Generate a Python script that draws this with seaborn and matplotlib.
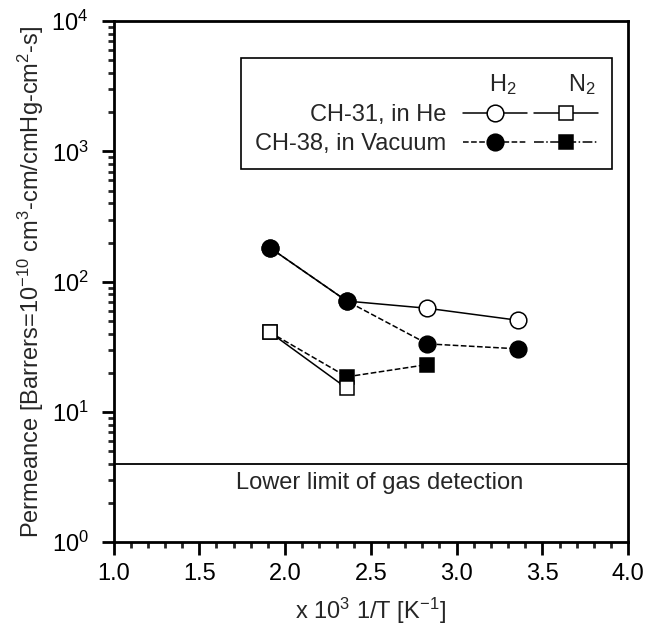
import matplotlib
matplotlib.use("Agg")
import matplotlib.pyplot as plt
from matplotlib.lines import Line2D
from matplotlib.legend_handler import HandlerTuple
from matplotlib.ticker import LogLocator, MultipleLocator, NullFormatter, FormatStrFormatter
import seaborn as sns

# data (x = 1000/T)
inv_T = [1.91, 2.36, 2.83, 3.36]
h2_ch31 = [183, 71, 62.5, 50.5]
h2_ch38 = [183, 71, 33.3, 30.5]
n2_ch31 = [41, 15.2]
n2_ch38 = [41, 18.6, 23.1]
detect_limit = 4.0

sns.set_style("ticks")
plt.rcParams['font.family'] = ['Liberation Sans', 'DejaVu Sans']
plt.rcParams['mathtext.fontset'] = 'custom'
plt.rcParams['mathtext.rm'] = 'Liberation Sans'
plt.rcParams['mathtext.it'] = 'Liberation Sans:italic'
FS = 17

fig = plt.figure(figsize=(6.64, 6.26), dpi=100)
ax = fig.add_axes([0.171, 0.134, 0.775, 0.832])

open_kw = dict(color='k', markerfacecolor='white', markeredgecolor='k', markeredgewidth=1.1, linewidth=1.1)
fill_kw = dict(color='k', markerfacecolor='k', markeredgecolor='k', markeredgewidth=1.1, linewidth=1.1)

# H2
sns.lineplot(x=inv_T, y=h2_ch31, marker='o', markersize=12, linestyle='-', ax=ax, **open_kw)
sns.lineplot(x=inv_T, y=h2_ch38, marker='o', markersize=12, linestyle='--', ax=ax, **fill_kw)
# N2
sns.lineplot(x=inv_T[:3], y=n2_ch38, marker='s', markersize=10.5, linestyle='--', ax=ax, **fill_kw)
sns.lineplot(x=inv_T[:2], y=n2_ch31, marker='s', markersize=10.5, linestyle='-', ax=ax, **open_kw)

ax.axhline(detect_limit, color='k', linewidth=1.3)
ax.text(2.55, 2.85, 'Lower limit of gas detection', ha='center', va='center', fontsize=FS)

ax.set_yscale('log')
ax.set_xlim(1.0, 4.0)
ax.set_ylim(1, 1e4)
ax.xaxis.set_major_locator(MultipleLocator(0.5))
ax.xaxis.set_minor_locator(MultipleLocator(0.1))
ax.xaxis.set_major_formatter(FormatStrFormatter('%.1f'))
ax.yaxis.set_major_locator(LogLocator(base=10, numticks=10))
ax.yaxis.set_minor_locator(LogLocator(base=10, subs=range(2, 10), numticks=20))
ax.yaxis.set_minor_formatter(NullFormatter())

ax.tick_params(which='major', direction='out', length=9, width=2, labelsize=FS, colors='k', pad=6)
ax.tick_params(axis='y', which='major', pad=9)
ax.tick_params(which='minor', direction='out', length=4, width=2)
for s in ax.spines.values():
    s.set_linewidth(2)
    s.set_color('k')

ax.set_xlabel('x 10$^3$ 1/T [K$^{-1}$]', fontsize=FS, labelpad=8)
ax.set_ylabel('Permeance [Barrers=10$^{-10}$ cm$^3$-cm/cmHg-cm$^2$-s]', fontsize=FS, labelpad=4)

# legend: label on the left, H2 and N2 samples on the right
h31 = Line2D([], [], marker='o', markersize=12, linestyle='-', **open_kw)
n31 = Line2D([], [], marker='s', markersize=10.5, linestyle='-', **open_kw)
h38 = Line2D([], [], marker='o', markersize=12, linestyle='--', **fill_kw)
n38 = Line2D([], [], marker='s', markersize=10.5, linestyle='-.', **fill_kw)
leg = ax.legend(handles=[(h31, n31), (h38, n38)],
                labels=['CH-31, in He', 'CH-38, in Vacuum'],
                handler_map={tuple: HandlerTuple(ndivide=None, pad=0.3)},
                markerfirst=False, handlelength=5.7, handletextpad=0.7,
                title='H$_2$        N$_2$ ', alignment='right',
                loc='upper right', bbox_to_anchor=(0.968, 0.930),
                borderaxespad=0, borderpad=0.6, labelspacing=0.3,
                frameon=True, fancybox=False, edgecolor='k', framealpha=1,
                fontsize=FS, title_fontsize=FS)
leg.get_frame().set_linewidth(1.2)

fig.savefig('out.png', dpi=100)
